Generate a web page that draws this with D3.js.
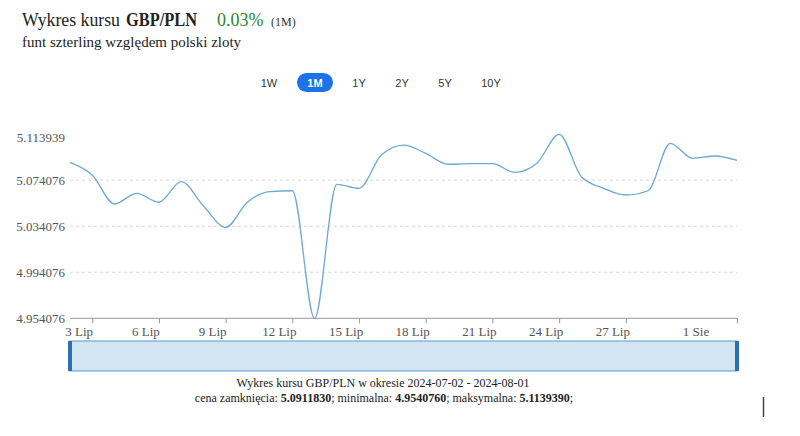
<!DOCTYPE html>
<html><head><meta charset="utf-8">
<script src="https://cdn.jsdelivr.net/npm/d3@7"></script>
<style>
body{margin:0;background:#fff;}
svg{display:block;}
</style></head>
<body><svg id="chart" width="800" height="436"></svg>
<script>
const dates = ["2024-07-02","2024-07-03","2024-07-04","2024-07-05","2024-07-06","2024-07-07","2024-07-08","2024-07-09","2024-07-10","2024-07-11","2024-07-12","2024-07-13","2024-07-14","2024-07-15","2024-07-16","2024-07-17","2024-07-18","2024-07-19","2024-07-20","2024-07-21","2024-07-22","2024-07-23","2024-07-24","2024-07-25","2024-07-26","2024-07-27","2024-07-28","2024-07-29","2024-07-30","2024-07-31","2024-08-01"];
const rates = [5.0896,5.0786,5.0534,5.0627,5.0549,5.0728,5.0516,5.0331,5.0554,5.0641,5.0649,4.954076,5.0705,5.0670,5.0959,5.1046,5.0974,5.0879,5.0884,5.0884,5.0809,5.0888,5.113939,5.0771,5.0670,5.0612,5.0649,5.1061,5.0931,5.0951,5.091183];
const yTickValues = [4.954076,4.994076,5.034076,5.074076,5.113939];
const xTickDates = ["2024-07-03","2024-07-06","2024-07-09","2024-07-12","2024-07-15","2024-07-18","2024-07-21","2024-07-24","2024-07-27","2024-08-01"];
const monthNames = ["Sty","Lut","Mar","Kwi","Maj","Cze","Lip","Sie","Wrz","Paź","Lis","Gru"];
const rangeButtons = ["1W","1M","1Y","2Y","5Y","10Y"];
const footerStats = ["5.0911830","4.9540760","5.1139390"];

(function(){
const parse = d3.utcParse("%Y-%m-%d");
const data = dates.map((d,i)=>({date:parse(d), value:rates[i]}));
const svg = d3.select("#chart");
const serif = "'Liberation Serif', 'Times New Roman', serif";
const sans = "'Liberation Sans', Arial, sans-serif";

// Title
svg.append("text").attr("x",22).attr("y",26).attr("font-family",serif).attr("font-size",19).attr("fill","#222")
  .attr("textLength",98).attr("lengthAdjust","spacingAndGlyphs").text("Wykres kursu");
svg.append("text").attr("x",126).attr("y",26).attr("font-family",serif).attr("font-size",19).attr("font-weight","bold").attr("fill","#222")
  .attr("textLength",71).attr("lengthAdjust","spacingAndGlyphs").text("GBP/PLN");
svg.append("text").attr("x",217).attr("y",26).attr("font-family",serif).attr("font-size",18).attr("fill","#1e8a2e").text("0.03%");
svg.append("text").attr("x",271).attr("y",26).attr("font-family",serif).attr("font-size",12).attr("fill","#333").text("(1M)");
svg.append("text").attr("x",22).attr("y",47).attr("font-family",serif).attr("font-size",15).attr("fill","#222").text("funt szterling względem polski zloty");

// Range buttons
const btnCenters = {"1W":269,"1M":315,"1Y":359,"2Y":402,"5Y":445,"10Y":491};
rangeButtons.forEach(b=>{
  const cx = btnCenters[b];
  if(b==="1M"){
    svg.append("rect").attr("x",cx-18).attr("y",73).attr("width",36).attr("height",19).attr("rx",9.5).attr("fill","#1a73e8");
  }
  svg.append("text").attr("x",cx).attr("y",86.5).attr("text-anchor","middle").attr("font-family",sans)
    .attr("font-size",11).attr("font-weight",b==="1M"?"bold":"normal").attr("fill",b==="1M"?"#fff":"#333").text(b);
});

// Scales
const pLeft=70, pRight=737, pTop=134.3, pBottom=318.3;
const x = d3.scaleUtc().domain([parse("2024-07-02"), parse("2024-08-01")]).range([pLeft,pRight]);
const y = d3.scaleLinear().domain([4.954076,5.113939]).range([pBottom,pTop]);

// Grid
svg.append("g").selectAll("line").data(yTickValues.slice(1,4)).join("line")
  .attr("x1",pLeft).attr("x2",pRight).attr("y1",d=>y(d)).attr("y2",d=>y(d))
  .attr("stroke","#d6d6d6").attr("stroke-dasharray","3,3").attr("stroke-width",1);

// Y labels
svg.append("g").selectAll("text").data(yTickValues).join("text")
  .attr("x",65).attr("y",d=>y(d)+(d===5.113939?8:4.5)).attr("text-anchor","end")
  .attr("font-family",serif).attr("font-size",13).attr("fill","#555")
  .text(d=>d.toFixed(6));

// X axis
const xAxis = d3.axisBottom(x).tickValues(xTickDates.map(parse)).tickSize(5).tickFormat("");
const gx = svg.append("g").attr("transform",`translate(0,${pBottom})`).call(xAxis);
gx.select(".domain").attr("stroke","#999").attr("d",`M${pLeft},0H${pRight}`);
gx.selectAll(".tick line").attr("stroke","#999");
svg.append("g").selectAll("text").data(xTickDates.map(parse)).join("text")
  .attr("x",(d,i)=> i===xTickDates.length-1 ? x(d)-41 : x(d)-13)
  .attr("y",pBottom+18).attr("text-anchor","middle")
  .attr("font-family",serif).attr("font-size",13).attr("fill","#555")
  .text(d=>d.getUTCDate()+" "+monthNames[d.getUTCMonth()]);

// Line
const line = d3.line().x(d=>x(d.date)).y(d=>y(d.value)).curve(d3.curveMonotoneX);
svg.append("path").datum(data).attr("d",line).attr("fill","none").attr("stroke","#6ea8d4").attr("stroke-width",1.3);

// Navigator
svg.append("rect").attr("x",pLeft).attr("y",341).attr("width",pRight-pLeft).attr("height",30)
  .attr("fill","#d3e4f3").attr("stroke","#5b9bd0").attr("stroke-width",1);
[pLeft, pRight].forEach(hx=>{
  svg.append("rect").attr("x",hx-2).attr("y",341).attr("width",4).attr("height",30).attr("fill","#2e6fb0");
});

// Footer
svg.append("text").attr("x",383).attr("y",387).attr("text-anchor","middle").attr("font-family",serif).attr("font-size",12).attr("fill","#222")
  .text("Wykres kursu GBP/PLN w okresie 2024-07-02 - 2024-08-01");
const f = svg.append("text").attr("x",384).attr("y",402).attr("text-anchor","middle").attr("font-family",serif).attr("font-size",12).attr("fill","#222");
f.append("tspan").text("cena zamknięcia: ");
f.append("tspan").attr("font-weight","bold").text(footerStats[0]);
f.append("tspan").text("; minimalna: ");
f.append("tspan").attr("font-weight","bold").text(footerStats[1]);
f.append("tspan").text("; maksymalna: ");
f.append("tspan").attr("font-weight","bold").text(footerStats[2]);
f.append("tspan").text(";");

// cursor mark
svg.append("line").attr("x1",763.5).attr("x2",763.5).attr("y1",397).attr("y2",417).attr("stroke","#444").attr("stroke-width",1.5);
})();
</script></body></html>
